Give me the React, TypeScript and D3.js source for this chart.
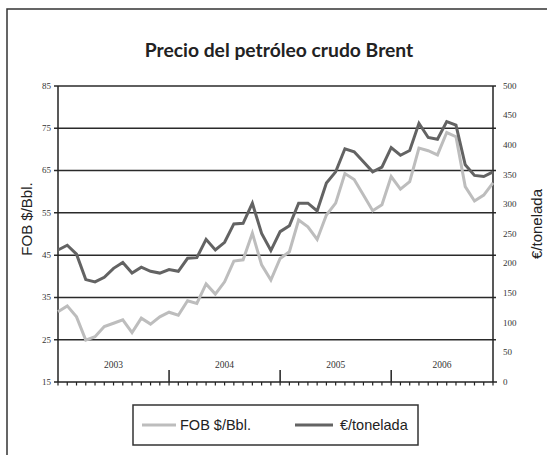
import React, { useRef, useEffect } from 'react';
import * as d3 from 'd3';

const years = ['2003', '2004', '2005', '2006'];
const monthNames = ['ene', 'feb', 'mar', 'abr', 'may', 'jun', 'jul', 'ago', 'sep', 'oct', 'nov', 'dic'];
const months = years.flatMap(y => monthNames.map(m => `${m} ${y}`));

// FOB $/Bbl. (left axis)
const fobValues = [
  31.6, 33.0, 30.4, 24.9, 25.7, 28.1, 28.9, 29.7, 26.7, 30.1, 28.7, 30.4,
  31.5, 30.8, 34.2, 33.6, 38.2, 35.8, 38.7, 43.6, 43.9, 50.2, 42.7, 39.1,
  44.2, 45.8, 53.3, 51.7, 48.7, 54.5, 57.3, 64.3, 62.9, 59.2, 55.5, 56.9,
  63.6, 60.6, 62.4, 70.3, 69.7, 68.7, 74.0, 73.0, 61.2, 57.8, 59.2, 62.1,
];

// €/tonelada (right axis)
const euroValues = [
  223, 231, 216, 173, 169, 177, 192, 202, 184, 194, 187, 184,
  190, 187, 209, 210, 241, 223, 236, 267, 268, 302, 251, 222,
  254, 264, 302, 302, 289, 336, 355, 394, 389, 372, 355, 363,
  396, 383, 391, 437, 413, 410, 440, 434, 367, 349, 347, 355,
];

const leftTicks = [15, 25, 35, 45, 55, 65, 75, 85];
const rightTicks = [0, 50, 100, 150, 200, 250, 300, 350, 400, 450, 500];

export default function App() {
  const svgRef = useRef<SVGSVGElement>(null);

  useEffect(() => {
    if (!svgRef.current) return;
    const svg = d3.select(svgRef.current);
    svg.selectAll('*').remove();

    const width = 547;
    const height = 455;
    const left = 58, right = 493, top = 86, bottom = 382;
    const serif = '"Liberation Serif", "DejaVu Serif", serif';
    const sans = '"Liberation Sans", Arial, sans-serif';

    svg.attr('width', width).attr('height', height);

    svg.append('rect')
      .attr('width', width).attr('height', height).attr('fill', '#fff');

    // outer frame
    svg.append('rect')
      .attr('x', 7).attr('y', 9).attr('width', 600).attr('height', 500)
      .attr('fill', 'none').attr('stroke', '#333').attr('stroke-width', 1.5);

    svg.append('text')
      .attr('x', 279).attr('y', 57)
      .attr('text-anchor', 'middle')
      .style('font-family', 'Lato, "Noto Sans", sans-serif')
      .style('font-weight', '700')
      .style('font-size', '19.3px')
      .style('fill', '#222')
      .text('Precio del petróleo crudo Brent');

    const x = d3.scalePoint<string>().domain(months).range([left, right]);
    const yL = d3.scaleLinear().domain([15, 85]).range([bottom, top]);
    const yR = d3.scaleLinear().domain([0, 500]).range([bottom, top]);

    // gridlines
    svg.append('g')
      .selectAll('line')
      .data(leftTicks.filter(t => t > 15))
      .enter()
      .append('line')
      .attr('x1', left - 4).attr('x2', right + 3)
      .attr('y1', d => yL(d)).attr('y2', d => yL(d))
      .attr('stroke', '#2a2a2a').attr('stroke-width', 1.5);

    // left axis
    svg.append('line')
      .attr('x1', left).attr('x2', left).attr('y1', top).attr('y2', bottom)
      .attr('stroke', '#222').attr('stroke-width', 1.5);
    svg.append('g')
      .selectAll('text')
      .data(leftTicks)
      .enter()
      .append('text')
      .attr('x', left - 7).attr('y', d => yL(d)).attr('dy', '0.32em')
      .attr('text-anchor', 'end')
      .style('font-family', serif).style('font-size', '9px').style('fill', '#333')
      .text(d => d);
    svg.append('line')
      .attr('x1', left - 4).attr('x2', left).attr('y1', bottom).attr('y2', bottom)
      .attr('stroke', '#222').attr('stroke-width', 1.5);

    // right axis
    svg.append('line')
      .attr('x1', right).attr('x2', right).attr('y1', top).attr('y2', bottom)
      .attr('stroke', '#222').attr('stroke-width', 1.5);
    svg.append('g')
      .selectAll('text')
      .data(rightTicks)
      .enter()
      .append('text')
      .attr('x', right + 10).attr('y', d => yR(d)).attr('dy', '0.32em')
      .attr('text-anchor', 'start')
      .style('font-family', serif).style('font-size', '9px').style('fill', '#333')
      .text(d => d);
    svg.append('line')
      .attr('x1', right).attr('x2', right + 4).attr('y1', bottom).attr('y2', bottom)
      .attr('stroke', '#222').attr('stroke-width', 1.5);

    // bottom axis
    svg.append('line')
      .attr('x1', left).attr('x2', right).attr('y1', bottom).attr('y2', bottom)
      .attr('stroke', '#222').attr('stroke-width', 1.5);
    svg.append('g')
      .selectAll('line')
      .data(months)
      .enter()
      .append('line')
      .attr('x1', d => x(d)!).attr('x2', d => x(d)!)
      .attr('y1', bottom).attr('y2', bottom + 3.5)
      .attr('stroke', '#222').attr('stroke-width', 1.2);
    svg.append('g')
      .selectAll('line')
      .data(years.slice(1))
      .enter()
      .append('line')
      .attr('x1', d => x(`ene ${d}`)!).attr('x2', d => x(`ene ${d}`)!)
      .attr('y1', bottom - 12).attr('y2', bottom)
      .attr('stroke', '#222').attr('stroke-width', 1.5);
    svg.append('g')
      .selectAll('text')
      .data(years)
      .enter()
      .append('text')
      .attr('x', d => {
        const a = x(`ene ${d}`)!;
        const next = years.indexOf(d) < years.length - 1
          ? x(`ene ${years[years.indexOf(d) + 1]}`)!
          : right;
        return (a + next) / 2;
      })
      .attr('y', bottom - 14)
      .attr('text-anchor', 'middle')
      .style('font-family', serif).style('font-size', '9.5px').style('fill', '#333')
      .text(d => d);

    // lines
    const fobLine = d3.line<number>()
      .x((_, i) => x(months[i])!)
      .y(d => yL(d));
    const euroLine = d3.line<number>()
      .x((_, i) => x(months[i])!)
      .y(d => yR(d));

    svg.append('path')
      .datum(fobValues)
      .attr('d', fobLine)
      .attr('fill', 'none').attr('stroke', '#bdbdbd').attr('stroke-width', 3)
      .attr('stroke-linejoin', 'miter');
    svg.append('path')
      .datum(euroValues)
      .attr('d', euroLine)
      .attr('fill', 'none').attr('stroke', '#636363').attr('stroke-width', 3)
      .attr('stroke-linejoin', 'miter');

    // axis titles
    svg.append('text')
      .attr('transform', `translate(32,${(top + bottom) / 2 - 15}) rotate(-90)`)
      .attr('text-anchor', 'middle')
      .style('font-family', sans).style('font-size', '15px').style('fill', '#222')
      .text('FOB $/Bbl.');
    svg.append('text')
      .attr('transform', `translate(542,${(top + bottom) / 2 - 10}) rotate(-90)`)
      .attr('text-anchor', 'middle')
      .style('font-family', sans).style('font-size', '15px').style('fill', '#222')
      .text('€/tonelada');

    // legend
    const lg = svg.append('g');
    lg.append('rect')
      .attr('x', 133).attr('y', 405).attr('width', 285).attr('height', 40)
      .attr('fill', '#fff').attr('stroke', '#333').attr('stroke-width', 1.5);
    lg.append('line')
      .attr('x1', 142).attr('x2', 176).attr('y1', 425).attr('y2', 425)
      .attr('stroke', '#bdbdbd').attr('stroke-width', 3);
    lg.append('text')
      .attr('x', 180).attr('y', 425).attr('dy', '0.35em')
      .style('font-family', sans).style('font-size', '14.5px').style('fill', '#222')
      .text('FOB $/Bbl.');
    lg.append('line')
      .attr('x1', 295).attr('x2', 333).attr('y1', 425).attr('y2', 425)
      .attr('stroke', '#636363').attr('stroke-width', 3);
    lg.append('text')
      .attr('x', 340).attr('y', 425).attr('dy', '0.35em')
      .style('font-family', sans).style('font-size', '14.5px').style('fill', '#222')
      .text('€/tonelada');
  }, []);

  return (
    <div style={{ position: 'absolute', left: 0, top: 0, width: 547, height: 455, overflow: 'hidden' }}>
      <svg ref={svgRef} style={{ display: 'block' }} />
    </div>
  );
}
